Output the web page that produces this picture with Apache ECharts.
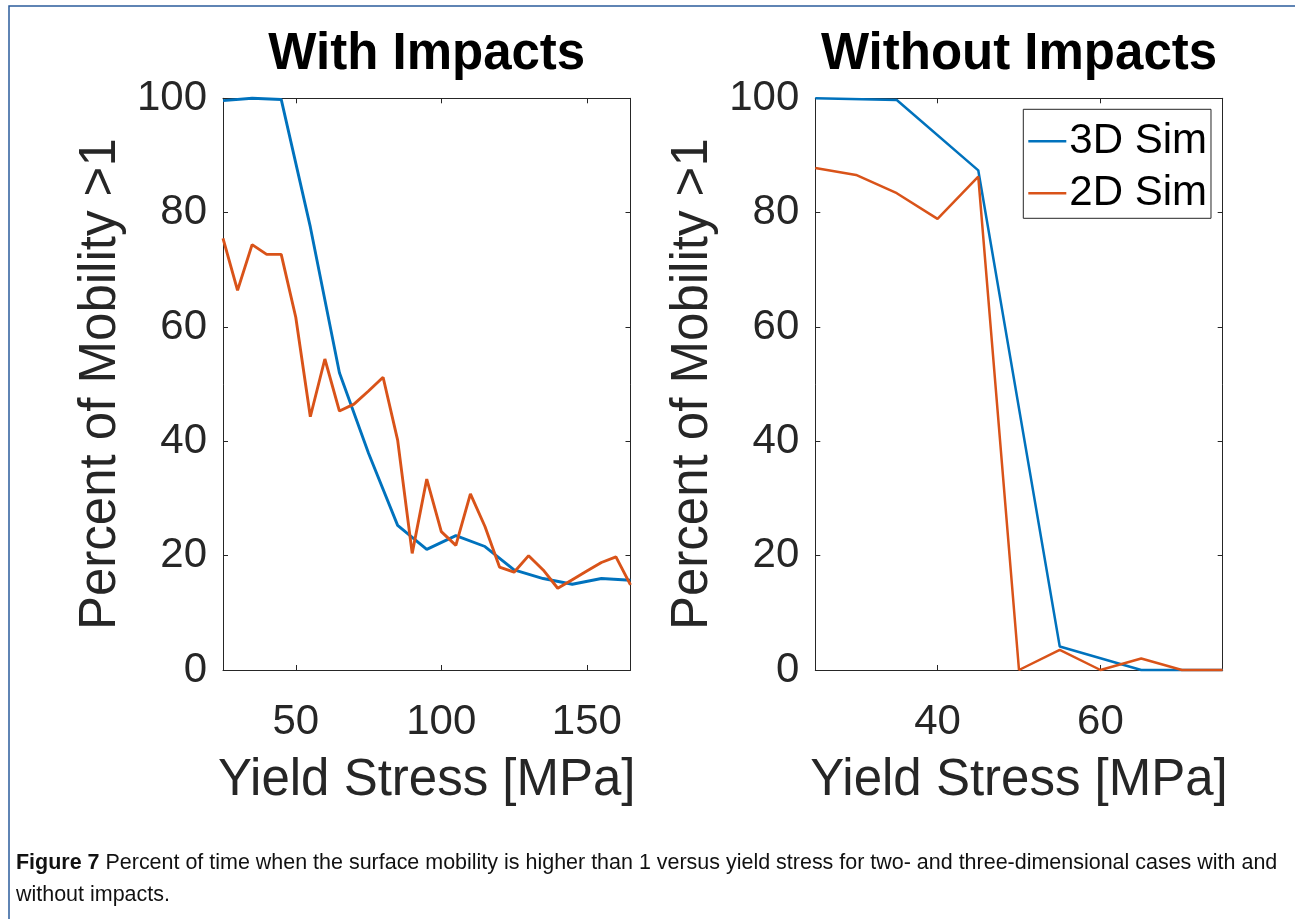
<!DOCTYPE html>
<html>
<head>
<meta charset="utf-8">
<script src="https://cdn.jsdelivr.net/npm/echarts@6/dist/echarts.min.js"></script>
<style>
  html, body { margin: 0; padding: 0; background: #ffffff; }
  #chart { width: 1295px; height: 919px; }
</style>
</head>
<body>
<div id="chart"></div>
<script>
// Yield stress [MPa] and percent of time with surface mobility > 1
const stress3DWith = [25, 35, 45, 55, 65, 75, 85, 95, 105, 115, 125, 135, 145, 155, 165];
const mobility3DWith = [99.6, 100, 99.8, 77.5, 52.0, 37.9, 25.3, 21.1, 23.5, 21.6, 17.5, 16.0, 15.0, 16.0, 15.7];

const stress2DWith = [25, 30, 35, 40, 45, 50, 55, 60, 65, 70, 75, 80, 85, 90, 95, 100,
  105, 110, 115, 120, 125, 130, 135, 140, 145, 150, 155, 160, 165];
const mobility2DWith = [75.5, 66.4, 74.4, 72.7, 72.7, 61.7, 44.3, 54.4, 45.3, 46.5, 48.8, 51.2, 40.2, 20.4, 33.4, 24.2,
  21.8, 30.8, 25.1, 18.0, 17.1, 20.0, 17.5, 14.3, 15.8, 17.3, 18.8, 19.8, 14.9];

const stress3DWithout = [25, 35, 45, 55, 65, 75];
const mobility3DWithout = [100, 99.7, 87.4, 4.1, 0, 0];

const stress2DWithout = [25, 30, 35, 40, 45, 50, 55, 60, 65, 70, 75];
const mobility2DWithout = [87.8, 86.6, 83.4, 78.9, 86.3, 0, 3.5, 0, 2.0, 0, 0];

const xTicksWith = [50, 100, 150];
const xTicksWithout = [40, 60];
const panelTitles = ['With Impacts', 'Without Impacts'];
const seriesNames = ['3D Sim', '2D Sim'];
const xAxisTitle = 'Yield Stress [MPa]';
const yAxisTitle = 'Percent of Mobility >1';
const captionBold = 'Figure 7';
const captionLine1 = ' Percent of time when the surface mobility is higher than 1 versus yield stress for two- and three-dimensional cases with and';
const captionLine2 = 'without impacts.';

const FONT = 'Liberation Sans';
const AXIS_COLOR = '#262626';
const BLUE = '#0072BD';
const ORANGE = '#D95319';

const zip = (xs, ys) => xs.map((x, i) => [x, ys[i]]);

// panel geometry
const panels = [
  { left: 223, width: 407.5, xMin: 25, xMax: 165, ticks: xTicksWith, lw: 2.9 },
  { left: 815.3, width: 407.4, xMin: 25, xMax: 75, ticks: xTicksWithout, lw: 2.5 }
];
const GRID_TOP = 98.3;
const GRID_HEIGHT = 571.7;

const grids = [], xAxes = [], yAxes = [];
panels.forEach((p, i) => {
  grids.push({ left: p.left, top: GRID_TOP, width: p.width, height: GRID_HEIGHT, containLabel: false });
  const axisLine = { show: true, onZero: false, lineStyle: { color: AXIS_COLOR, width: 1 } };
  const tick = { show: true, inside: true, length: 5, lineStyle: { color: AXIS_COLOR, width: 1 }, customValues: p.ticks };
  xAxes.push({
    type: 'value', gridIndex: i, position: 'bottom', min: p.xMin, max: p.xMax,
    axisLine, axisTick: tick, splitLine: { show: false },
    axisLabel: { show: true, customValues: p.ticks, margin: 31, fontSize: 42, color: AXIS_COLOR, fontFamily: FONT },
    name: xAxisTitle, nameLocation: 'middle', nameGap: 85,
    nameTextStyle: { fontSize: 51, color: AXIS_COLOR, fontFamily: FONT }
  });
  xAxes.push({
    type: 'value', gridIndex: i, position: 'top', min: p.xMin, max: p.xMax,
    axisLine, axisTick: tick, splitLine: { show: false }, axisLabel: { show: false }
  });
  const yTick = { show: true, inside: true, length: 5, lineStyle: { color: AXIS_COLOR, width: 1 } };
  yAxes.push({
    type: 'value', gridIndex: i, position: 'left', min: 0, max: 100, interval: 20,
    axisLine, axisTick: yTick, splitLine: { show: false },
    axisLabel: { margin: 16, fontSize: 42, color: AXIS_COLOR, fontFamily: FONT, padding: [6, 0, 0, 0] },
    name: yAxisTitle, nameLocation: 'middle', nameGap: 97, nameRotate: 90,
    nameTextStyle: { fontSize: 51, color: AXIS_COLOR, fontFamily: FONT }
  });
  yAxes.push({
    type: 'value', gridIndex: i, position: 'right', min: 0, max: 100, interval: 20,
    axisLine, axisTick: yTick, splitLine: { show: false }, axisLabel: { show: false }
  });
});

const lineSeries = (name, data, xIdx, yIdx, color, lw) => ({
  name, type: 'line', data, xAxisIndex: xIdx, yAxisIndex: yIdx,
  showSymbol: false, symbol: 'none', clip: false, animation: false,
  lineStyle: { color, width: lw }, itemStyle: { color }
});

const series = [
  lineSeries(seriesNames[0], zip(stress3DWith, mobility3DWith), 0, 0, BLUE, panels[0].lw),
  lineSeries(seriesNames[1], zip(stress2DWith, mobility2DWith), 0, 0, ORANGE, panels[0].lw),
  lineSeries(seriesNames[0], zip(stress3DWithout, mobility3DWithout), 2, 2, BLUE, panels[1].lw),
  lineSeries(seriesNames[1], zip(stress2DWithout, mobility2DWithout), 2, 2, ORANGE, panels[1].lw)
];

// caption font size fitted to the text block width
const ctx = document.createElement('canvas').getContext('2d');
ctx.font = 'bold 20px "' + FONT + '"';
const wBold = ctx.measureText(captionBold).width;
ctx.font = '20px "' + FONT + '"';
const wRest = ctx.measureText(captionLine1).width;
const captionSize = 20 * 1262 / (wBold + wRest);

const graphics = [
  { type: 'polyline', shape: { points: [[9, 919], [9, 6], [1295, 6]] },
    style: { stroke: '#2B5C9C', lineWidth: 1.5, fill: null }, silent: true },
  ...panelTitles.map((t, i) => ({
    type: 'text', x: panels[i].left + panels[i].width / 2, y: 55,
    style: { text: t, fill: '#000', font: 'bold 51px "' + FONT + '"', textAlign: 'center', textVerticalAlign: 'middle' }
  })),
  { type: 'text', x: 16, y: 863,
    style: {
      text: '{b|' + captionBold + '}{r|' + captionLine1 + '}',
      textVerticalAlign: 'middle', textAlign: 'left',
      rich: {
        b: { fontWeight: 'bold', fontSize: captionSize, fontFamily: FONT, fill: '#111' },
        r: { fontSize: captionSize, fontFamily: FONT, fill: '#111' }
      }
    } },
  { type: 'text', x: 16, y: 895,
    style: { text: captionLine2, font: captionSize + 'px "' + FONT + '"', fill: '#111', textVerticalAlign: 'middle', textAlign: 'left' } }
];

const chart = echarts.init(document.getElementById('chart'), null, { renderer: 'canvas' });
chart.setOption({
  backgroundColor: '#ffffff',
  animation: false,
  textStyle: { fontFamily: FONT },
  grid: grids,
  xAxis: xAxes,
  yAxis: yAxes,
  legend: {
    data: seriesNames, orient: 'vertical', left: 1023.3, top: 109.3,
    icon: 'rect', itemWidth: 38, itemHeight: 2.5, itemGap: 10,
    padding: [11, 4, 4, 5],
    borderColor: AXIS_COLOR, borderWidth: 1, backgroundColor: '#fff',
    textStyle: { fontSize: 42, color: '#000', fontFamily: FONT, padding: [0, 0, 0, -2] },
    selectedMode: false
  },
  series,
  graphic: graphics
});
</script>
</body>
</html>
